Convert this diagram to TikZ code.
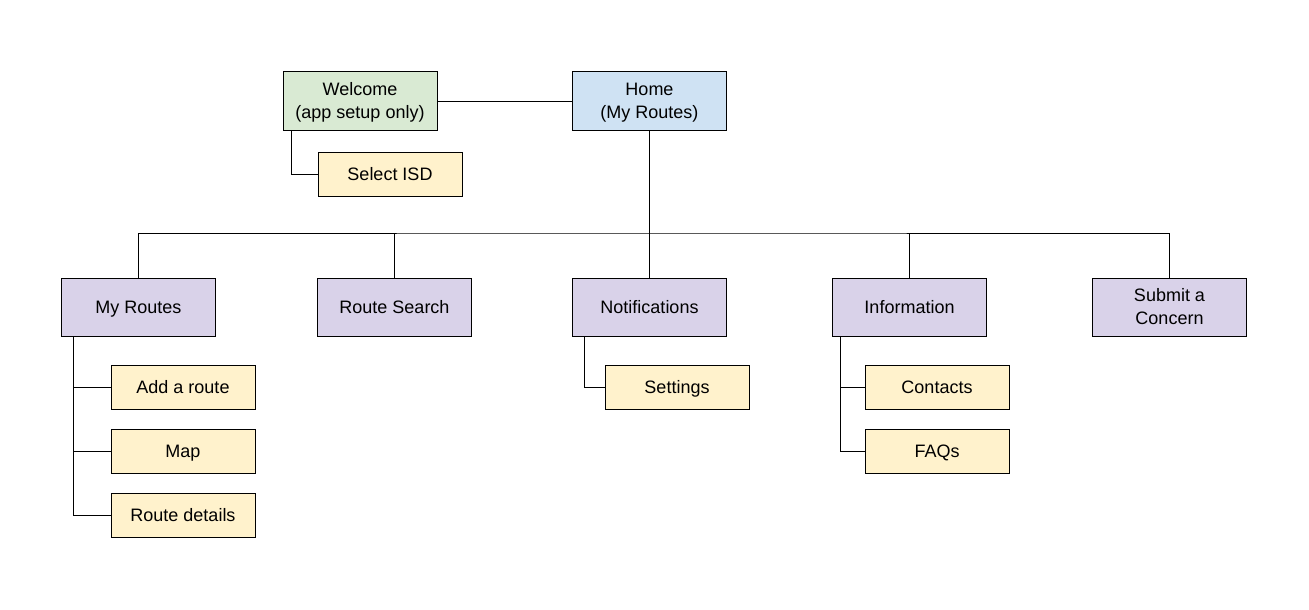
\documentclass[tikz,border=0pt]{standalone}
\usepackage{fontspec}
\setmainfont{Liberation Sans}
\definecolor{startgreen}{HTML}{D9EAD3}
\definecolor{homeblue}{HTML}{CFE2F3}
\definecolor{pagepurple}{HTML}{D9D2E9}
\definecolor{subyellow}{HTML}{FFF2CC}
\begin{document}
\begin{tikzpicture}[x=1pt,y=-1pt,line width=1pt,
		page/.style={draw=black,line width=1pt,inner sep=0pt,align=center,
			minimum width=154pt,minimum height=58pt,
			text height=16pt,text depth=3.2pt,
			font=\fontsize{18}{23}\selectfont},
		twoline/.style={text height=39pt},
		subpage/.style={page,fill=subyellow,minimum width=144pt,minimum height=44pt}]
	\useasboundingbox (0,0) rectangle (1309,610);
	% top row
	\node[page,twoline,fill=startgreen] (welcome) at (360,101) {Welcome\\(app setup only)};
	\node[page,twoline,fill=homeblue] (home) at (649.5,101) {Home\\(My Routes)};
	\node[subpage] (selectisd) at (390,174) {Select ISD};
	% main pages
	\node[page,fill=pagepurple] (myroutes) at (138.5,307) {My Routes};
	\node[page,fill=pagepurple] (routesearch) at (394.5,307) {Route Search};
	\node[page,fill=pagepurple] (notifications) at (649.5,307) {Notifications};
	\node[page,fill=pagepurple] (information) at (909.5,307) {Information};
	\node[page,twoline,fill=pagepurple] (concern) at (1169.5,307) {Submit a\\Concern};
	% sub pages
	\node[subpage] (addroute) at (183,387) {Add a route};
	\node[subpage] (map) at (183,451) {Map};
	\node[subpage] (routedetails) at (183,515) {Route details};
	\node[subpage] (settings) at (677,387) {Settings};
	\node[subpage] (contacts) at (937,387) {Contacts};
	\node[subpage] (faqs) at (937,451) {FAQs};
	% connectors
	\draw (welcome) -- (home);
	\draw ([xshift=9]welcome.south west) |- (selectisd.west);
	\coordinate (bus) at (649.5,233);
	\draw (home) -- (notifications);
	\draw (myroutes.north) |- (bus) -| (concern.north);
	\foreach \n in {routesearch,information}
		\draw (\n.north) -- (\n.north |- bus);
	\coordinate (mrstem) at ([xshift=12]myroutes.south west);
	\draw (mrstem) |- (routedetails.west);
	\foreach \n in {addroute,map}
		\draw (\n.west) -- (\n.west -| mrstem);
	\draw ([xshift=12]notifications.south west) |- (settings.west);
	\coordinate (instem) at ([xshift=8]information.south west);
	\draw (instem) |- (faqs.west);
	\draw (contacts.west) -- (contacts.west -| instem);
\end{tikzpicture}
\end{document}
